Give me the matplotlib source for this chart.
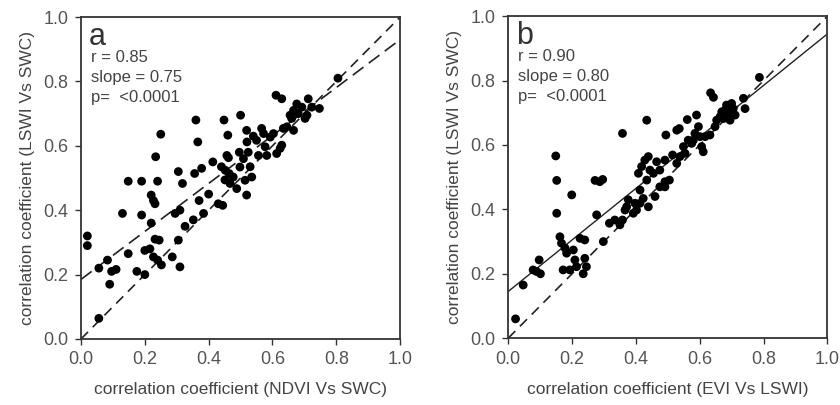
import matplotlib.pyplot as plt
import numpy as np

plt.rcParams['font.family'] = ['Liberation Sans', 'DejaVu Sans']

# panel a: NDVI vs SWC (x) against LSWI vs SWC (y)
a_x = [0.02, 0.02, 0.056, 0.056, 0.083, 0.09, 0.096, 0.11, 0.13, 0.148, 0.148, 0.175,
       0.19, 0.19, 0.2, 0.2, 0.216, 0.22, 0.227, 0.232, 0.22, 0.232, 0.227, 0.234,
       0.24, 0.25, 0.245, 0.252, 0.24, 0.286, 0.295, 0.305, 0.31, 0.31, 0.305, 0.318,
       0.326, 0.352, 0.356, 0.36, 0.366, 0.37, 0.378, 0.384, 0.4, 0.413, 0.43, 0.444,
       0.448, 0.457, 0.46, 0.44, 0.452, 0.464, 0.451, 0.467, 0.462, 0.477, 0.488, 0.5,
       0.498, 0.496, 0.509, 0.519, 0.52, 0.524, 0.519, 0.514, 0.53, 0.535, 0.54, 0.55,
       0.556, 0.566, 0.572, 0.577, 0.582, 0.593, 0.603, 0.611, 0.624, 0.613, 0.629, 0.629,
       0.634, 0.645, 0.66, 0.666, 0.655, 0.666, 0.676, 0.681, 0.692, 0.702, 0.712, 0.708,
       0.723, 0.747, 0.805]
a_y = [0.32, 0.29, 0.22, 0.064, 0.245, 0.17, 0.21, 0.216, 0.39, 0.49, 0.265, 0.21,
       0.49, 0.385, 0.2, 0.275, 0.28, 0.447, 0.43, 0.42, 0.36, 0.31, 0.255, 0.566,
       0.49, 0.636, 0.307, 0.23, 0.245, 0.255, 0.39, 0.52, 0.4, 0.224, 0.307, 0.483,
       0.35, 0.37, 0.514, 0.68, 0.612, 0.43, 0.53, 0.39, 0.45, 0.55, 0.42, 0.415,
       0.68, 0.57, 0.633, 0.535, 0.524, 0.514, 0.494, 0.483, 0.563, 0.503, 0.467, 0.695,
       0.534, 0.58, 0.56, 0.648, 0.612, 0.58, 0.447, 0.493, 0.535, 0.503, 0.63, 0.617,
       0.57, 0.654, 0.638, 0.597, 0.57, 0.627, 0.638, 0.757, 0.592, 0.576, 0.746, 0.602,
       0.654, 0.659, 0.685, 0.648, 0.695, 0.71, 0.73, 0.7, 0.72, 0.685, 0.746, 0.695,
       0.72, 0.716, 0.81]

# panel b: EVI vs LSWI (x) against LSWI vs SWC (y)
b_x = [0.023, 0.047, 0.078, 0.089, 0.097, 0.101, 0.149, 0.152, 0.152, 0.162, 0.167, 0.172,
       0.178, 0.183, 0.193, 0.199, 0.204, 0.209, 0.214, 0.225, 0.235, 0.24, 0.24, 0.245,
       0.272, 0.277, 0.287, 0.296, 0.298, 0.317, 0.334, 0.35, 0.358, 0.358, 0.366, 0.371,
       0.376, 0.392, 0.397, 0.402, 0.408, 0.413, 0.413, 0.418, 0.423, 0.428, 0.434, 0.434,
       0.439, 0.439, 0.444, 0.455, 0.46, 0.465, 0.475, 0.475, 0.491, 0.491, 0.491, 0.494,
       0.505, 0.515, 0.528, 0.528, 0.536, 0.538, 0.549, 0.554, 0.561, 0.564, 0.575, 0.58,
       0.585, 0.59, 0.596, 0.601, 0.606, 0.611, 0.617, 0.632, 0.634, 0.643, 0.648, 0.653,
       0.664, 0.669, 0.674, 0.679, 0.684, 0.69, 0.695, 0.7, 0.705, 0.711, 0.737, 0.742,
       0.787]
b_y = [0.06, 0.165, 0.212, 0.207, 0.243, 0.2, 0.566, 0.49, 0.388, 0.315, 0.295, 0.212,
       0.28, 0.264, 0.212, 0.445, 0.274, 0.243, 0.222, 0.31, 0.2, 0.305, 0.248, 0.222,
       0.49, 0.383, 0.486, 0.493, 0.3, 0.357, 0.367, 0.352, 0.636, 0.367, 0.398, 0.408,
       0.43, 0.388, 0.419, 0.398, 0.512, 0.419, 0.46, 0.533, 0.434, 0.553, 0.677, 0.491,
       0.408, 0.564, 0.522, 0.512, 0.44, 0.548, 0.47, 0.522, 0.486, 0.553, 0.47, 0.631,
       0.491, 0.569, 0.646, 0.543, 0.651, 0.564, 0.595, 0.574, 0.679, 0.615, 0.605, 0.615,
       0.636, 0.693, 0.657, 0.626, 0.595, 0.579, 0.626, 0.631, 0.762, 0.748, 0.657, 0.677,
       0.688, 0.703, 0.682, 0.708, 0.724, 0.698, 0.677, 0.729, 0.713, 0.693, 0.745, 0.713,
       0.81]

# regression lines (intercept, slope)
fit_a = (0.185, 0.745)
fit_b = (0.145, 0.80)

panels = [
    dict(letter="a", x=a_x, y=a_y, fit=fit_a, fit_style="--",
         stats=["r = 0.85", "slope = 0.75", "p=  <0.0001"],
         xlabel="correlation coefficient (NDVI Vs SWC)"),
    dict(letter="b", x=b_x, y=b_y, fit=fit_b, fit_style="-",
         stats=["r = 0.90", "slope = 0.80", "p=  <0.0001"],
         xlabel="correlation coefficient (EVI Vs LSWI)"),
]

fig = plt.figure(figsize=(8.4, 4.05), dpi=100)
rects = [[0.0964, 0.163, 0.380, 0.795], [0.605, 0.165, 0.380, 0.795]]
txt = "#444444"

for rect, p in zip(rects, panels):
    ax = fig.add_axes(rect)
    xx = np.array([0.0, 1.0])
    ax.plot(xx, xx, ls=(0, (6, 4)), color="#222222", lw=1.2, zorder=1)
    b0, b1 = p["fit"]
    if p["fit_style"] == "--":
        ax.plot(xx, b0 + b1 * xx, ls=(0, (8, 4)), color="#222222", lw=1.2, zorder=1)
    else:
        ax.plot(xx, b0 + b1 * xx, ls="-", color="#222222", lw=1.0, zorder=1)
    ax.scatter(p["x"], p["y"], s=40, color="black", edgecolors="none", zorder=3)

    ax.set_xlim(0, 1)
    ax.set_ylim(0, 1)
    ax.set_xticks([0, 0.2, 0.4, 0.6, 0.8, 1.0])
    ax.set_yticks([0, 0.2, 0.4, 0.6, 0.8, 1.0])
    ax.xaxis.set_major_formatter(plt.FormatStrFormatter("%.1f"))
    ax.yaxis.set_major_formatter(plt.FormatStrFormatter("%.1f"))
    ax.tick_params(direction="out", length=4, width=1, labelsize=13,
                   labelcolor="#555555", color="#333333", pad=5)
    for s in ax.spines.values():
        s.set_linewidth(1.3)
        s.set_color("#333333")

    ax.set_xlabel(p["xlabel"], fontsize=12.5, color=txt, labelpad=10)
    ax.set_ylabel("correlation coefficient (LSWI Vs SWC)", fontsize=12.5, color=txt, labelpad=6)

    ax.text(0.025, 0.985, p["letter"], transform=ax.transAxes, fontsize=22,
            color="#333333", va="top", ha="left")
    for i, line in enumerate(p["stats"]):
        ax.text(0.03, 0.874 - i * 0.062, line, transform=ax.transAxes, fontsize=12,
                color=txt, va="center", ha="left")

fig.savefig("out.png", dpi=100)
